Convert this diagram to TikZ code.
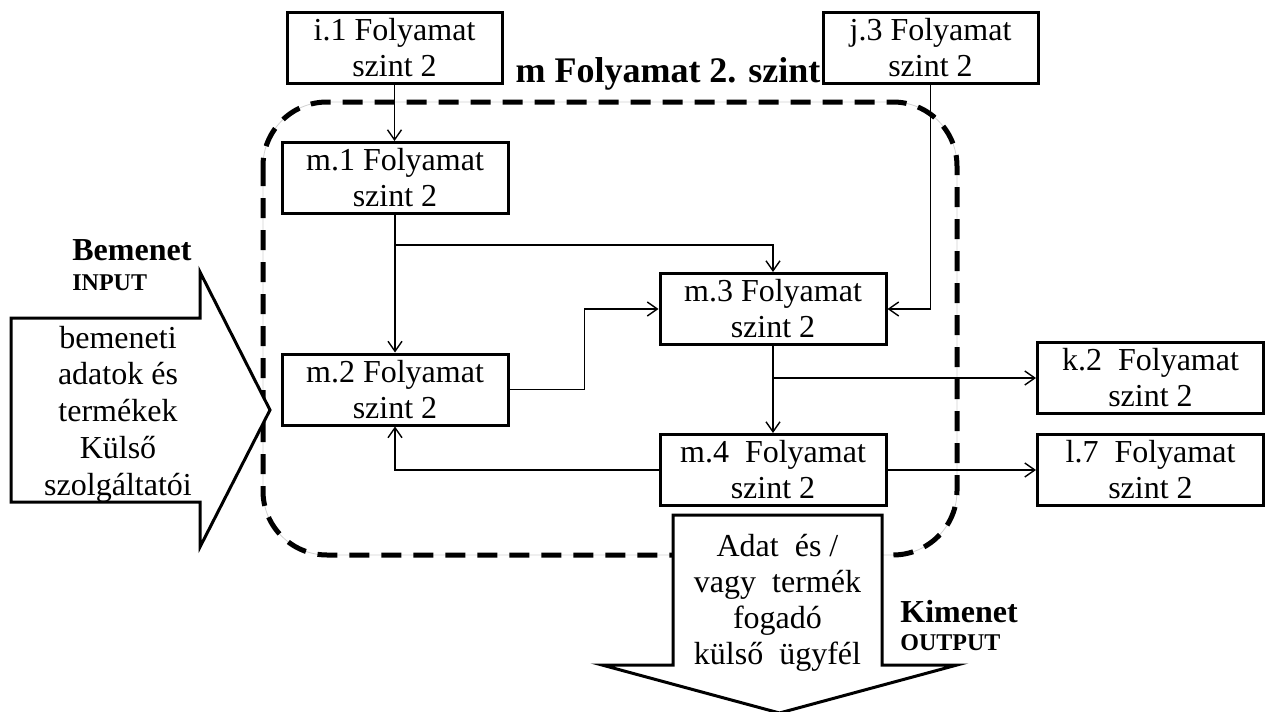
\documentclass[tikz,border=0pt]{standalone}
\usepackage{fontspec}
\setmainfont{Liberation Serif}
\usetikzlibrary{arrows.meta,positioning,calc}

\begin{document}
\begin{tikzpicture}[x=0.5pt,y=-0.5pt,
    proc/.style={draw, line width=1.5pt, minimum width=113pt, minimum height=35.5pt,
        inner sep=0pt, align=center, font=\fontsize{16}{18}\selectfont},
    flow/.style={->, line width=0.7pt},
    lbl/.style={inner sep=0pt, anchor=base west},
    >={Straight Barb[length=5pt,width=7pt]}]
    \useasboundingbox (0,0) rectangle (1266,712);

    % Frame of process m
    \draw[gray!35, line width=0.4pt, rounded corners=32pt] (263,102) rectangle (957,555);
    \draw[line width=2.5pt, dash pattern=on 10pt off 6pt, rounded corners=32pt] (263,102) rectangle (957,555);
    \node[inner sep=0pt, anchor=base, font=\bfseries\fontsize{18}{20}\selectfont] (title) at (668,83) {m Folyamat 2. szint};

    % Process boxes
    \node[proc, minimum width=107.5pt] (i1) at (394.5,47.5) {i.1 Folyamat\\szint 2};
    \node[proc, minimum width=107.5pt] (j3) at (930.5,48) {j.3 Folyamat\\szint 2};
    \node[proc] (m1) at (395,178) {m.1 Folyamat\\szint 2};
    \node[proc] (m2) at (395,389.5) {m.2 Folyamat\\szint 2};
    \node[proc] (m3) at (773,309) {m.3 Folyamat\\szint 2};
    \node[proc] (m4) at (773,470) {m.4\ \ Folyamat\\szint 2};
    \node[proc] (k2) at (1150.5,378) {k.2\ \ Folyamat\\szint 2};
    \node[proc] (l7) at (1150.5,469.5) {l.7\ \ Folyamat\\szint 2};

    % Connections
    \coordinate (b1) at ($(m1.south)+(0,30)$);
    \coordinate (b2) at ($(m3.south)+(0,32)$);
    \draw[flow] (i1.south) -- (i1.south |- m1.north);
    \draw[flow] (j3.south) |- (m3.east);
    \draw[flow] (m1) -- (m2);
    \draw[flow] (b1) -| (m3.north);
    \draw[flow] (m2.east) -- ++(75,0) |- (m3.west);
    \draw[flow] (m3) -- (m4);
    \draw[flow] (b2) -- (b2 -| k2.west);
    \draw[flow] (m4.west) -| (m2.south);
    \draw[flow] (m4.east) -- (m4.east -| l7.west);

    % Input arrow
    \draw[line width=1.5pt, fill=white] (11,318) -- (200,318) -- (200,272) -- (270,410)
        -- (200,547) -- (200,502) -- (11,502) -- cycle;
    \node[align=center, inner sep=0pt, font=\fontsize{16}{18.4}\selectfont] (intext) at (118,414)
        {bemeneti\\adatok és\\termékek\\Külső\\szolgáltatói};
    \node[lbl, font=\bfseries\fontsize{16}{18}\selectfont] (bem) at (72,260) {Bemenet};
    \node[lbl, font=\bfseries\fontsize{12}{14}\selectfont] (inlab) at (72,290) {INPUT};

    % Output arrow
    \draw[line width=1.5pt, fill=white] (673,515) -- (882,515) -- (882,665) -- (957,665)
        -- (779.5,713) -- (602,665) -- (673,665) -- cycle;
    \node[align=center, inner sep=0pt, font=\fontsize{16}{18}\selectfont] (outtext) at (777.5,603)
        {Adat\ \ és /\\vagy\ \ termék\\fogadó\\külső\ \ ügyfél};
    \node[lbl, font=\bfseries\fontsize{16}{18}\selectfont] (kim) at (900,622) {Kimenet};
    \node[lbl, font=\bfseries\fontsize{12}{14}\selectfont] (outlab) at (900,650) {OUTPUT};
\end{tikzpicture}
\end{document}
